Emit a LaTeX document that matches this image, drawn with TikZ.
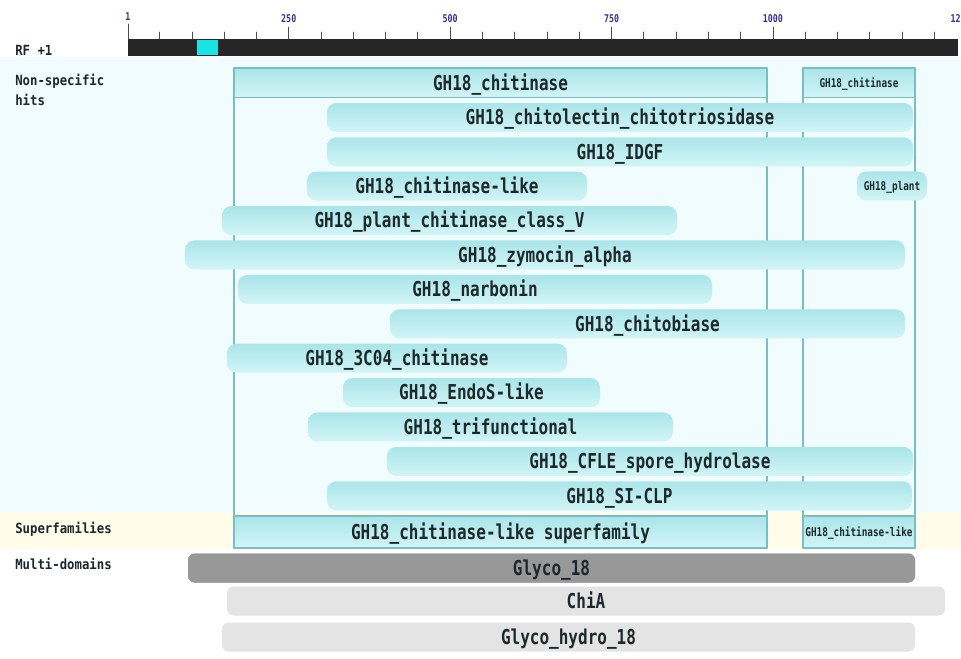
\documentclass[tikz,border=0pt]{standalone}
\usepackage{fontspec}
\newfontfamily\cddfont{DejaVu Sans Mono}[FakeStretch=0.78]
\newfontfamily\lblfont{DejaVu Sans Mono}[FakeStretch=0.88]
\definecolor{hitdark}{RGB}{170,229,233}
\definecolor{hitlite}{RGB}{210,245,247}
\definecolor{framecol}{RGB}{120,190,196}
\definecolor{bandcyan}{RGB}{240,252,253}
\definecolor{bandyel}{RGB}{255,252,234}
\definecolor{txtcol}{RGB}{28,40,42}
\definecolor{rulecol}{RGB}{38,38,38}
\definecolor{cursor}{RGB}{24,228,230}
\definecolor{numcol}{RGB}{50,50,140}
\definecolor{domdark}{RGB}{152,152,152}
\definecolor{domlite}{RGB}{228,228,228}
\tikzset{
  hit/.style={rounded corners=7pt,top color=hitdark,bottom color=hitlite,
    minimum height=21.75pt,inner sep=0pt,text=txtcol,
    font=\cddfont\bfseries\fontsize{15.4}{16}\selectfont,text height=11pt,text depth=0pt},
  hitbox/.style={hit,rounded corners=0pt,draw=framecol,line width=0.8pt},
  small/.style={font=\cddfont\bfseries\fontsize{9}{10}\selectfont,text height=6.5pt},
  domain bar/.style={hit,fill=domdark,top color=domdark,bottom color=domdark,rounded corners=5pt},
  lite bar/.style={hit,top color=domlite,bottom color=domlite,rounded corners=5pt},
  rowlabel/.style={anchor=west,inner sep=0pt,text=txtcol,
    font=\lblfont\bfseries\fontsize{10.5}{12}\selectfont},
  ticknum/.style={inner sep=0pt,text=numcol,font=\cddfont\bfseries\fontsize{8}{9}\selectfont}
}
\begin{document}
\begin{tikzpicture}[x=0.75pt,y=-0.75pt,line join=round,line cap=round]
\def\rx{127.35}\def\rs{0.6456}\def\ry{83}\def\dy{34.4}
\useasboundingbox (0,0) rectangle (961,659);
% bands
\fill[bandcyan] (0,57) rectangle (961,512);
\fill[bandyel] (0,512) rectangle (961,549);
% ruler
\fill[rulecol] (128,39) rectangle (958,56);
\fill[cursor] (197,40) rectangle (218,55);
\foreach \k in {50,100,...,1250}
  \draw[line width=0.6pt,black!70] ({\rx+\rs*\k},32) -- ({\rx+\rs*\k},39);
\foreach \k in {250,500,750,1000}
  {\draw[line width=0.6pt,black!70] ({\rx+\rs*\k},27) -- ({\rx+\rs*\k},39);
   \node[ticknum] (n\k) at ({\rx+\rs*\k},19) {\k};}
\draw[line width=0.6pt,black!70] (128,24) -- (128,39);
\node[ticknum] (n1) at (128,17) {1};
\node[ticknum,anchor=east] (nend) at (961,19) {12};
% row labels
\node[rowlabel] (rf) at (15,50) {RF +1};
\node[rowlabel] (nsh) at (15,81) {Non-specific};
\node[rowlabel] (nsh2) at (15,100) {hits};
\node[rowlabel] (sfam) at (15,529) {Superfamilies};
\node[rowlabel] (mdom) at (15,564) {Multi-domains};
% footprints
\draw[framecol,line width=0.8pt] (234,68) rectangle (767,548);
\draw[framecol,line width=0.8pt] (803,68) rectangle (915,548);
% non-specific hits
\node[hitbox,minimum width=399.75pt] (chit) at (500.5,83) {GH18\_chitinase};
\node[hitbox,small,minimum width=84pt] (chitb) at (859,83) {GH18\_chitinase};
\foreach \nm/\xa/\xb/\r/\txt in {
  lectin/327/913/1/GH18\_chitolectin\_chitotriosidase,
  idgf/327/913/2/GH18\_IDGF,
  clike/307/587/3/GH18\_chitinase-like,
  plant/222/677/4/GH18\_plant\_chitinase\_class\_V,
  zymo/185/905/5/GH18\_zymocin\_alpha,
  narb/238/712/6/GH18\_narbonin,
  cbiase/390/905/7/GH18\_chitobiase,
  ccoo/227/567/8/GH18\_3C04\_chitinase,
  endos/343/600/9/GH18\_EndoS-like,
  trif/308/673/10/GH18\_trifunctional,
  cfle/387/913/11/GH18\_CFLE\_spore\_hydrolase,
  siclp/327/912/12/GH18\_SI-CLP}
  {\pgfmathsetmacro\bw{(\xb-\xa)*0.75}
   \node[hit,minimum width=\bw pt] (\nm) at ({(\xa+\xb)/2},{\ry+\dy*\r}) {\txt};}
\node[hit,small,minimum width=52.5pt] (plantb) at (892,186) {GH18\_plant};
% superfamilies
\node[hitbox,minimum width=399.75pt,minimum height=24pt] (sup) at (500.5,532) {GH18\_chitinase-like superfamily};
\node[hitbox,small,minimum width=84pt,minimum height=24pt] (supb) at (859,532) {GH18\_chitinase-like};
% multi-domains
\node[domain bar,minimum width=545.25pt] (glyco) at (551.5,568) {Glyco\_18};
\node[lite bar,minimum width=538.5pt] (chia) at (586,601) {ChiA};
\node[lite bar,minimum width=519.75pt] (ghydro) at (568.5,637) {Glyco\_hydro\_18};
\end{tikzpicture}
\end{document}
